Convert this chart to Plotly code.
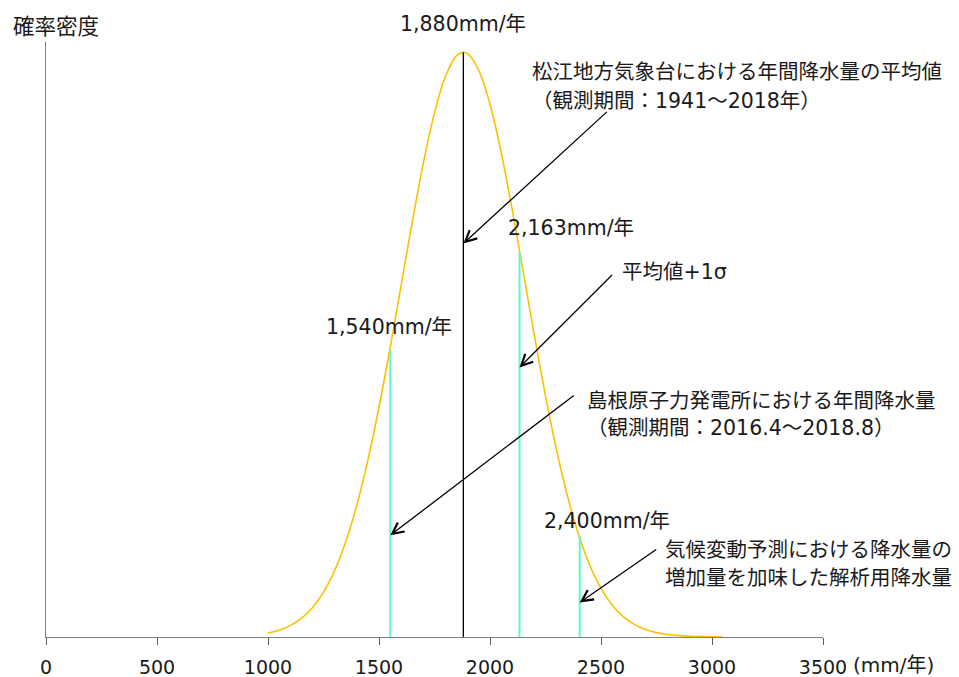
import plotly.graph_objects as go

# ---------------- data ----------------
curve_x = [1000, 1050, 1100, 1150, 1200, 1250, 1300, 1350, 1400, 1450, 1500,
           1550, 1600, 1650, 1700, 1750, 1800, 1850, 1880, 1900, 1950, 2000,
           2050, 2100, 2150, 2200, 2250, 2300, 2350, 2400, 2450, 2500, 2550,
           2600, 2650, 2700, 2750, 2800, 2850, 2900, 2950, 3000, 3050]
curve_y = [0.0067, 0.0116, 0.0195, 0.0318, 0.0502, 0.0767, 0.1135, 0.1625,
           0.2252, 0.3024, 0.3929, 0.4944, 0.6022, 0.7102, 0.8109, 0.8964,
           0.9594, 0.9942, 1.0000, 0.9974, 0.9688, 0.9110, 0.8295, 0.7312,
           0.6240, 0.5156, 0.4124, 0.3194, 0.2395, 0.1739, 0.1222, 0.0832,
           0.0548, 0.0349, 0.0216, 0.0129, 0.0075, 0.0042, 0.0023, 0.0012,
           0.0006, 0.0003, 0.0001]

mean_x = 1880
mean_h = 1.0
marker_x = [1551, 2133, 2404]
marker_h = [0.491, 0.658, 0.173]

value_labels = ["1,880mm/年", "1,540mm/年", "2,163mm/年", "2,400mm/年"]
note_lines = [
    ["松江地方気象台における年間降水量の平均値", "（観測期間：1941～2018年）"],
    ["平均値+1σ"],
    ["島根原子力発電所における年間降水量", "（観測期間：2016.4～2018.8）"],
    ["気候変動予測における降水量の", "増加量を加味した解析用降水量"],
]
arrow_head_y = [0.673, 0.461, 0.174, 0.059]
x_ticks = [0, 500, 1000, 1500, 2000, 2500, 3000, 3500]
y_title = "確率密度"
x_unit = "(mm/年)"

# ---------------- figure ----------------
W, H = 959, 677
L, R, T, B = 46, 136, 42, 40
PW, PH = W - L - R, H - T - B

def px(xp):
    return (xp - L) / PW

def py(yp):
    return (H - B - yp) / PH

FONT = "DejaVu Sans, Noto Sans CJK JP, sans-serif"
TXT = "#1a1a1a"

fig = go.Figure()
fig.add_trace(go.Scatter(x=curve_x, y=curve_y, mode="lines",
                         line=dict(color="#FFC000", width=1.6, shape="spline"),
                         hoverinfo="skip", showlegend=False))
fig.add_trace(go.Scatter(x=[mean_x, mean_x], y=[0, mean_h], mode="lines",
                         line=dict(color="#000000", width=1.3),
                         showlegend=False))
for mx, mh in zip(marker_x, marker_h):
    fig.add_trace(go.Scatter(x=[mx, mx], y=[0, mh], mode="lines",
                             line=dict(color="#5CF7D0", width=2),
                             showlegend=False))

ann = []
val_pos = [(463, 24), (389, 327), (571, 228), (607, 521)]
for t, (xp, yp) in zip(value_labels, val_pos):
    ann.append(dict(text=t, x=px(xp), y=py(yp), xref="paper", yref="paper",
                    xanchor="center", yanchor="middle", showarrow=False,
                    font=dict(family=FONT, size=20.5, color=TXT)))

note_pos = [[(530, 72), (530, 101)],
            [(620, 272)],
            [(585, 401), (585, 428)],
            [(663, 550), (663, 578)]]
for lines, poss in zip(note_lines, note_pos):
    for t, (xp, yp) in zip(lines, poss):
        ann.append(dict(text=t, x=px(xp), y=py(yp), xref="paper", yref="paper",
                        xanchor="left", yanchor="middle", showarrow=False,
                        font=dict(family=FONT, size=20.5, color=TXT)))

arrow_x = [mean_x, marker_x[1], marker_x[0], marker_x[2]]
arrow_off = [(145, -133), (94, -94), (185, -141), (78, -54)]
for hx, hy, (ax, ay) in zip(arrow_x, arrow_head_y, arrow_off):
    ann.append(dict(text="", x=hx, y=hy, xref="x", yref="y",
                    ax=ax, ay=ay, showarrow=True, arrowhead=5,
                    arrowsize=1.7, arrowwidth=1.3, arrowcolor="#000000",
                    standoff=0, startstandoff=0))

ann.append(dict(text=y_title, x=px(11), y=py(26), xref="paper", yref="paper",
                xanchor="left", yanchor="middle", showarrow=False,
                font=dict(family=FONT, size=21.5, color=TXT)))
ann.append(dict(text=x_unit, x=px(851), y=py(665), xref="paper", yref="paper",
                xanchor="left", yanchor="middle", showarrow=False,
                font=dict(family=FONT, size=20, color=TXT)))

fig.update_layout(
    width=W, height=H,
    margin=dict(l=L, r=R, t=T, b=B, pad=0, autoexpand=False),
    paper_bgcolor="white", plot_bgcolor="white",
    showlegend=False,
    annotations=ann,
    xaxis=dict(range=[0, 3500], tickvals=x_ticks, ticktext=[str(v) for v in x_ticks],
               showline=True, linecolor="#808080", linewidth=1.3,
               ticks="outside", ticklen=7, tickcolor="#595959", tickwidth=1.3,
               showgrid=False, zeroline=False, ticklabelstandoff=6,
               automargin=False,
               tickfont=dict(family=FONT, size=19, color=TXT)),
    yaxis=dict(range=[0, PH / 584.7], showline=True, linecolor="#808080",
               linewidth=1.3, showticklabels=False, ticks="",
               showgrid=False, zeroline=False, automargin=False),
)

fig.write_html("out.html", config={"displayModeBar": False},
               post_script="document.body.style.margin='0';document.body.style.padding='0';")
